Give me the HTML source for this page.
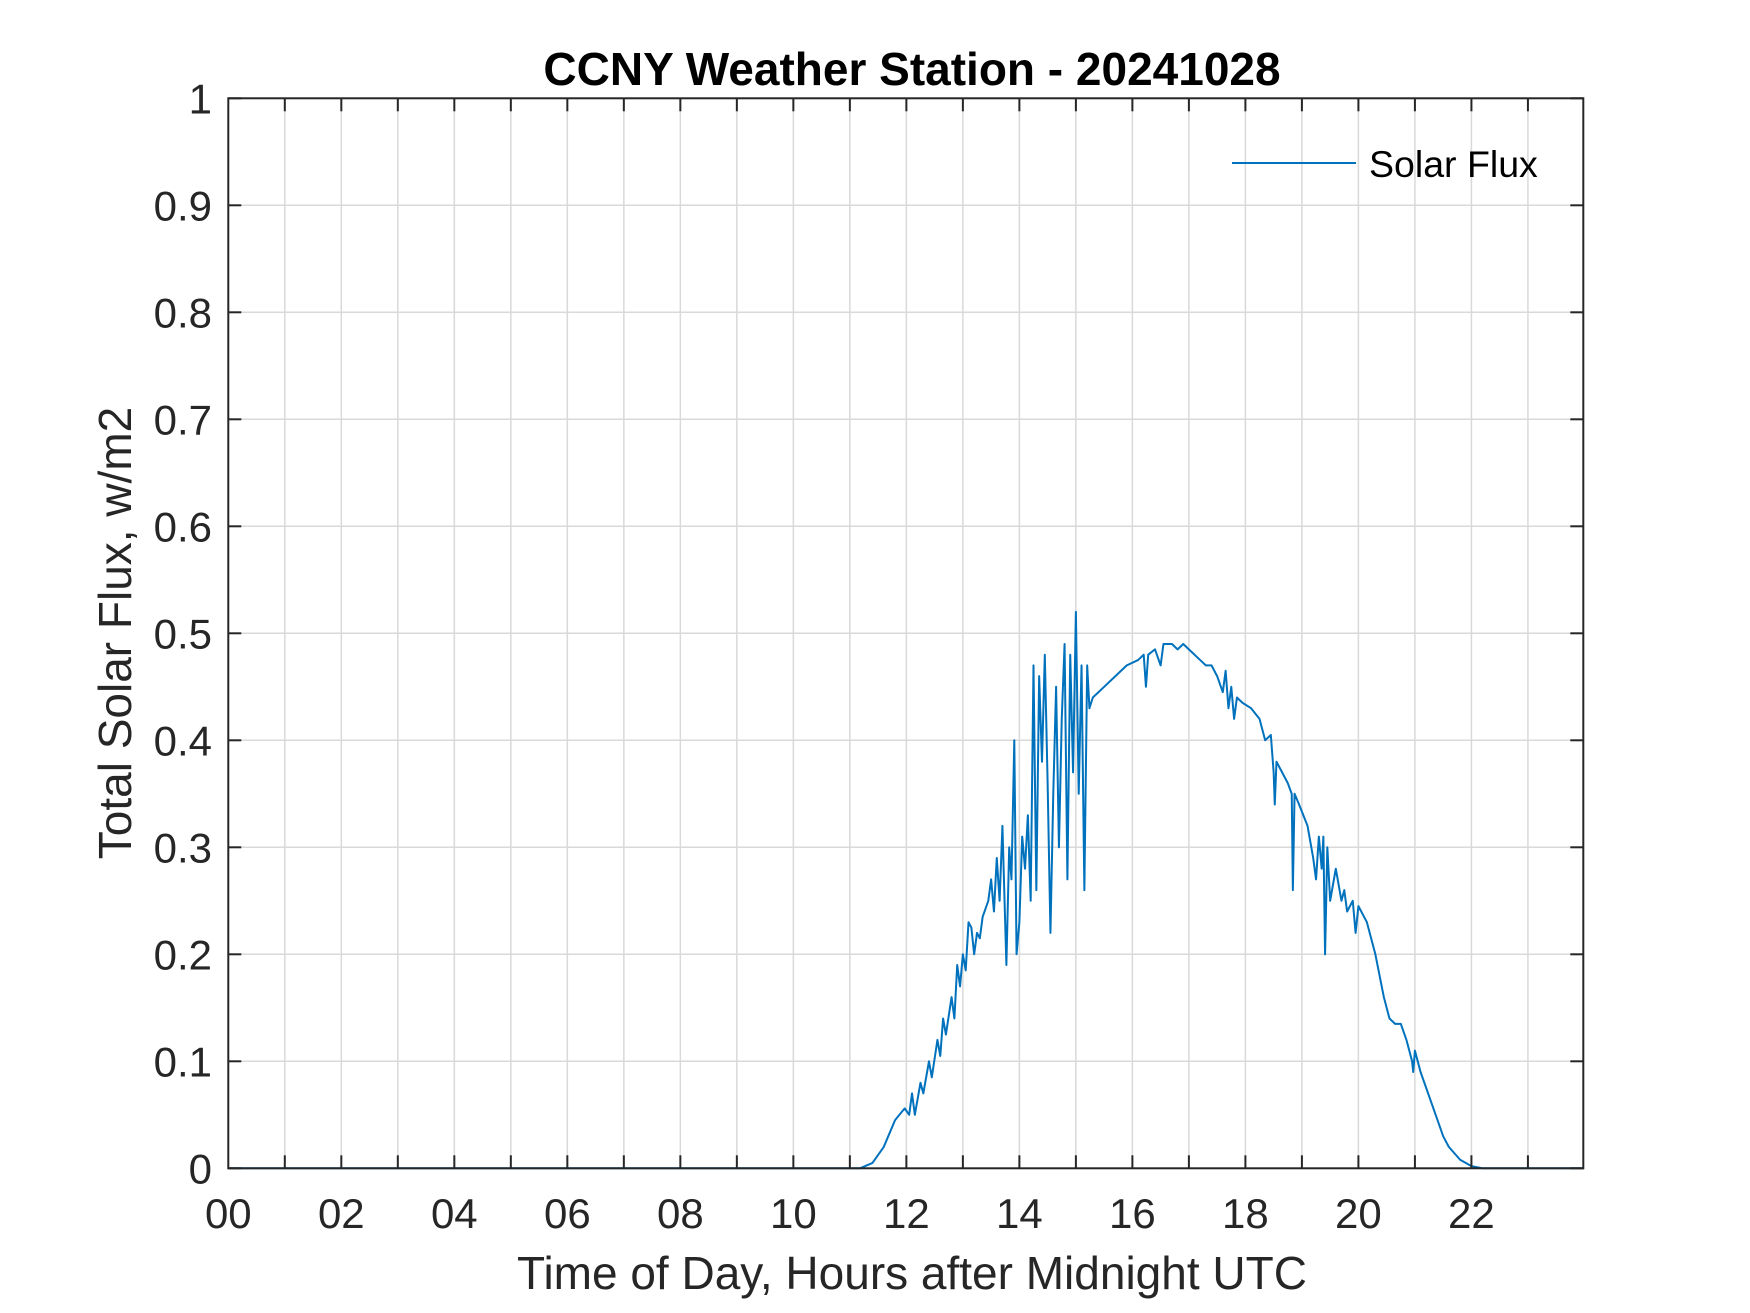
<!DOCTYPE html>
<html><head><meta charset="utf-8"><style>
html,body{margin:0;padding:0;background:#fff}
svg{display:block}
text{font-family:"Liberation Sans",Arial,sans-serif;fill:#262626}
</style></head><body>
<svg id="chart" width="1750" height="1313" viewBox="0 0 1750 1313" xmlns="http://www.w3.org/2000/svg">
<rect x="0" y="0" width="1750" height="1313" fill="#fff"/>
<g id="grid"></g>
<g id="series"></g>
<g id="axes"></g>
<text x="912" y="85" text-anchor="middle" font-size="46" font-weight="bold" style="fill:#000">CCNY Weather Station - 20241028</text>
<text x="912" y="1289" text-anchor="middle" font-size="46">Time of Day, Hours after Midnight UTC</text>
<text transform="translate(131,633) rotate(-90)" text-anchor="middle" font-size="46">Total Solar Flux, w/m2</text>
<g>
<line x1="1232" y1="163" x2="1356" y2="163" stroke="#0072BD" stroke-width="2"/>
<text x="1369" y="177" font-size="37.5" style="fill:#000">Solar Flux</text>
</g>
</svg>
<script>
const hours = [0,11.18,11.4,11.6,11.8,11.97,12.05,12.1,12.15,12.25,12.3,12.4,12.45,12.55,12.6,12.65,12.7,12.8,12.85,12.9,12.95,13.0,13.05,13.1,13.15,13.2,13.25,13.3,13.35,13.45,13.5,13.55,13.6,13.65,13.7,13.77,13.82,13.86,13.91,13.95,14.0,14.05,14.1,14.15,14.2,14.25,14.3,14.35,14.4,14.45,14.5,14.55,14.6,14.65,14.7,14.75,14.8,14.85,14.9,14.95,15.0,15.05,15.1,15.15,15.2,15.24,15.3,15.5,15.7,15.9,16.1,16.2,16.24,16.28,16.4,16.5,16.55,16.7,16.8,16.9,17.0,17.2,17.3,17.4,17.5,17.6,17.65,17.7,17.75,17.8,17.85,17.95,18.1,18.25,18.35,18.45,18.5,18.52,18.55,18.65,18.75,18.82,18.84,18.87,18.95,19.1,19.2,19.25,19.3,19.35,19.38,19.41,19.45,19.5,19.6,19.7,19.75,19.8,19.9,19.95,20.0,20.15,20.3,20.45,20.55,20.65,20.75,20.85,20.95,20.97,21.0,21.1,21.3,21.5,21.6,21.8,22.0,22.2,23.98];
const flux = [0,0,0.005,0.02,0.045,0.056,0.05,0.07,0.05,0.08,0.07,0.10,0.085,0.12,0.105,0.14,0.125,0.16,0.14,0.19,0.17,0.2,0.185,0.23,0.225,0.2,0.22,0.215,0.235,0.25,0.27,0.24,0.29,0.25,0.32,0.19,0.3,0.27,0.4,0.2,0.23,0.31,0.28,0.33,0.25,0.47,0.26,0.46,0.38,0.48,0.36,0.22,0.35,0.45,0.3,0.42,0.49,0.27,0.48,0.37,0.52,0.35,0.47,0.26,0.47,0.43,0.44,0.45,0.46,0.47,0.475,0.48,0.45,0.48,0.485,0.47,0.49,0.49,0.485,0.49,0.485,0.475,0.47,0.47,0.46,0.445,0.465,0.43,0.45,0.42,0.44,0.435,0.43,0.42,0.40,0.405,0.37,0.34,0.38,0.37,0.36,0.35,0.26,0.35,0.34,0.32,0.29,0.27,0.31,0.28,0.31,0.2,0.3,0.25,0.28,0.25,0.26,0.24,0.25,0.22,0.245,0.23,0.2,0.16,0.14,0.135,0.135,0.12,0.1,0.09,0.11,0.09,0.06,0.03,0.02,0.008,0.002,0,0];
const xTickLabels = ["00","02","04","06","08","10","12","14","16","18","20","22"];
const yTickLabels = ["0","0.1","0.2","0.3","0.4","0.5","0.6","0.7","0.8","0.9","1"];

const NS = "http://www.w3.org/2000/svg";
const L = 228.3, R = 1583.3, T = 98.3, B = 1168.3;
const XMAX = 23.98;
function xs(h){ return L + (R - L) * h / XMAX; }
function ys(v){ return B - (B - T) * v; }
function mk(tag, attrs, parent){
  const e = document.createElementNS(NS, tag);
  for (const k in attrs) e.setAttribute(k, attrs[k]);
  parent.appendChild(e);
  return e;
}
const grid = document.getElementById('grid');
const axes = document.getElementById('axes');
const series = document.getElementById('series');

for (let h = 1; h <= 23; h++) {
  const g = mk('line', {x1: xs(h), x2: xs(h), y1: T, y2: B, stroke: '#d9d9d9', 'stroke-width': 1.5}, grid);
  
  
}
for (let i = 1; i < yTickLabels.length - 1; i++) {
  const v = i / 10;
  const g = mk('line', {x1: L, x2: R, y1: ys(v), y2: ys(v), stroke: '#d9d9d9', 'stroke-width': 1.5}, grid);
  
  
}

let d = '';
for (let i = 0; i < hours.length; i++) d += (i ? 'L' : 'M') + xs(hours[i]).toFixed(2) + ' ' + ys(flux[i]).toFixed(2);
const path = mk('path', {d: d, fill: 'none', stroke: '#0072BD', 'stroke-width': 2, 'stroke-linejoin': 'round'}, series);



const box = mk('rect', {x: L, y: T, width: R - L, height: B - T, fill: 'none', stroke: '#262626', 'stroke-width': 2}, axes);



for (let h = 1; h <= 23; h++) {
  const t1 = mk('line', {x1: xs(h), x2: xs(h), y1: B, y2: B - 13, stroke: '#262626', 'stroke-width': 2}, axes);
  
  
  const t2 = mk('line', {x1: xs(h), x2: xs(h), y1: T, y2: T + 13, stroke: '#262626', 'stroke-width': 2}, axes);
  
  
}
xTickLabels.forEach((lab, i) => {
  const t = mk('text', {x: xs(i * 2), y: 1228, 'text-anchor': 'middle', 'font-size': 42}, axes);
  t.textContent = lab;
  
  
});
yTickLabels.forEach((lab, i) => {
  const v = i / 10;
  const a = mk('line', {x1: L, x2: L + 13, y1: ys(v), y2: ys(v), stroke: '#262626', 'stroke-width': 2}, axes);
  
  
  const b = mk('line', {x1: R, x2: R - 13, y1: ys(v), y2: ys(v), stroke: '#262626', 'stroke-width': 2}, axes);
  
  
  const t = mk('text', {x: 212, y: ys(v) + 15, 'text-anchor': 'end', 'font-size': 42}, axes);
  t.textContent = lab;
  
  
});
</script>
</body></html>
